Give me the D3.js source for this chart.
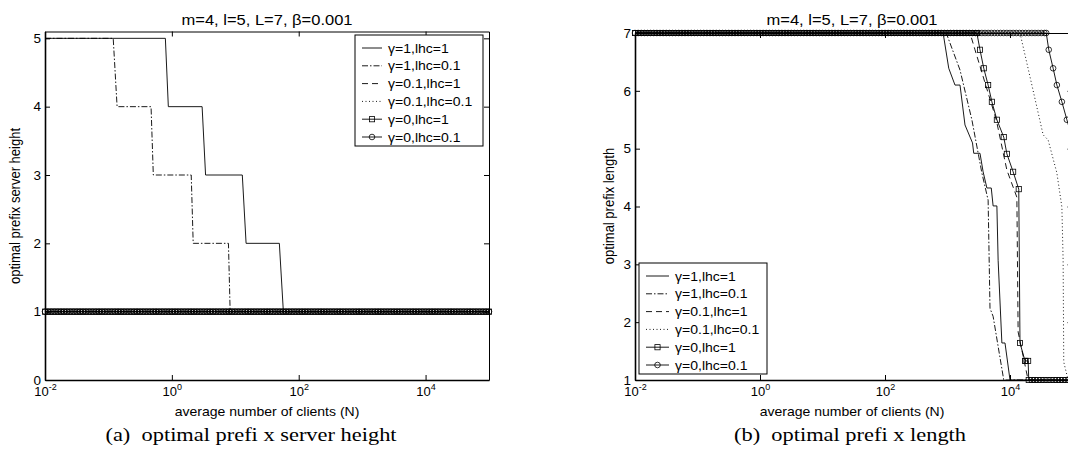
<!DOCTYPE html>
<html>
<head>
<meta charset="utf-8">
<script src="https://cdn.jsdelivr.net/npm/d3@7"></script>
<style>
body { margin: 0; background: #fff; }
text { font-family: "Liberation Sans", Arial, sans-serif; fill: #000; }
</style>
</head>
<body>
<div id="fig"></div>
<script>
// tick values / labels
var xTicks = [1e-2, 1e0, 1e2, 1e4];
var xTickExp = ["-2", "0", "2", "4"];
var heightTicks = [0, 1, 2, 3, 4, 5];
var lengthTicks = [1, 2, 3, 4, 5, 6, 7];
var seriesNames = ["γ=1,lhc=1", "γ=1,lhc=0.1", "γ=0.1,lhc=1", "γ=0.1,lhc=0.1", "γ=0,lhc=1", "γ=0,lhc=0.1"];

// (a) optimal prefix server height, points are [N, height]
var heightG1L1 = [[0.01, 5], [0.79, 5], [0.88, 4], [3.0, 4], [3.4, 3], [12.9, 3], [14.8, 2], [49.5, 2], [57.3, 1], [1e5, 1]];
var heightG1L01 = [[0.01, 5], [0.119, 5], [0.137, 4], [0.47, 4], [0.51, 3], [2.02, 3], [2.17, 2], [7.8, 2], [8.3, 1], [1e5, 1]];
var heightG01L1 = [[0.01, 1], [1e5, 1]];
var heightG01L01 = [[0.01, 1], [1e5, 1]];
var heightG0L1 = [[0.01, 1], [1e5, 1]];
var heightG0L01 = [[0.01, 1], [1e5, 1]];

// (b) optimal prefix length, points are [N, length]
var lengthG1L1 = [[0.01, 7], [851, 7], [1047, 6.39], [1318, 6.1], [1585, 6.1], [1905, 5.41], [2512, 5.1], [2630, 4.92], [3311, 4.92],
    [3715, 4.6], [4266, 4.32], [5012, 4.32], [5370, 4.01], [6166, 4.01], [6457, 3.07], [7413, 1.64], [8318, 1.64], [10000, 1], [1e5, 1]];
var lengthG1L01 = [[0.01, 7], [955, 7], [1585, 6.36], [2455, 5.5], [3548, 4.58], [4467, 4.11], [4786, 2.24], [5370, 2.1], [7943, 1], [1e5, 1]];
var lengthG01L1 = [[0.01, 7], [2291, 7], [2754, 6.71], [6026, 5.5], [8913, 4.63], [12882, 4.16], [13490, 1.83], [19498, 1], [1e5, 1]];
var lengthG01L01 = [[0.01, 7], [14454, 7], [22387, 6.1], [33884, 5.24], [40738, 5.15], [56234, 4.58], [67608, 3.99], [70795, 3.07],
    [72444, 1.31], [85114, 1], [1e5, 1]];
var lengthG0L1 = [[0.01, 7], [2951, 7], [3311, 6.71], [3802, 6.39], [4467, 6.1], [5129, 5.81], [6166, 5.5], [7943, 5.2], [8913, 4.91],
    [11220, 4.6], [13804, 4.3], [14454, 1.64], [17378, 1.33], [19498, 1.33], [19953, 1], [1e5, 1]];
var lengthG0L01 = [[0.01, 7], [38019, 7], [41687, 6.71], [48978, 6.39], [56234, 6.1], [67608, 5.81], [81283, 5.5], [97724, 5.2], [1e5, 5.15]];

// line styles per series
var dashes = [null, "6,2,1.5,2", "6,4", "1,2.5", null, null];
var markers = [null, null, null, null, "square", "circle"];

var svg = d3.select("#fig").append("svg").attr("width", 1068).attr("height", 462);

// markers on every sample: vertices plus the sample grid on flat runs
function markerPoints(s) {
    var pts = [];
    for (var i = 0; i < s.length; i++) {
        pts.push(s[i]);
        if (i < s.length - 1 && s[i][1] === s[i + 1][1]) {
            var a = Math.log10(s[i][0]), b = Math.log10(s[i + 1][0]);
            for (var t = Math.ceil(a * 20 + 0.01) / 20; t < b - 0.01; t += 0.05) pts.push([Math.pow(10, t), s[i][1]]);
        }
    }
    return pts;
}

function drawMarker(g, type, cx, cy) {
    if (type === "square") {
        g.append("rect").attr("x", cx - 2.6).attr("y", cy - 2.6).attr("width", 5.2).attr("height", 5.2)
            .attr("fill", "none").attr("stroke", "#000").attr("stroke-width", 0.8);
    } else if (type === "circle") {
        g.append("circle").attr("cx", cx).attr("cy", cy).attr("r", 2.8)
            .attr("fill", "none").attr("stroke", "#000").attr("stroke-width", 0.8);
    }
}

function drawPanel(p) {
    var x = d3.scaleLog().domain([1e-2, 1e5]).range([p.left, p.right]);
    var y = d3.scaleLinear().domain(p.yDomain).range([380, p.top]);
    var g = svg.append("g");

    // axes (box with inward ticks)
    var bottom = g.append("g").attr("transform", "translate(0,380)")
        .call(d3.axisBottom(x).tickValues(xTicks).tickSize(-5).tickSizeOuter(0).tickPadding(6));
    bottom.selectAll("text").each(function (d, i) {
        var t = d3.select(this).text("10").attr("y", 7).attr("font-size", 13).attr("font-family", null);
        t.append("tspan").attr("dy", -6).attr("font-size", 9).text(xTickExp[i]);
    });
    g.append("g").attr("transform", "translate(0," + p.top + ")")
        .call(d3.axisTop(x).tickValues(xTicks).tickSize(-5).tickSizeOuter(0).tickFormat(""));
    var left = g.append("g").attr("transform", "translate(" + p.left + ",0)")
        .call(d3.axisLeft(y).tickValues(p.yTicks).tickSize(-5).tickSizeOuter(0).tickPadding(4).tickFormat(d3.format("d")));
    left.selectAll("text").attr("font-size", 13.5).attr("font-family", null);
    g.append("g").attr("transform", "translate(" + p.right + ",0)")
        .call(d3.axisRight(y).tickValues(p.yTicks).tickSize(-5).tickSizeOuter(0).tickFormat(""));
    g.selectAll(".domain").attr("stroke-width", 1);
    bottom.select(".domain").attr("stroke-width", 1.6);
    left.select(".domain").attr("stroke-width", 1.6);

    // series
    var line = d3.line().x(function (d) { return x(d[0]); }).y(function (d) { return y(d[1]); });
    p.series.forEach(function (s, i) {
        g.append("path").attr("d", line(s)).attr("fill", "none").attr("stroke", "#000")
            .attr("stroke-width", 0.9).attr("stroke-dasharray", dashes[i]);
        if (markers[i]) {
            markerPoints(s).forEach(function (d) { drawMarker(g, markers[i], x(d[0]), y(d[1])); });
        }
    });

    // texts
    g.append("text").attr("transform", "translate(" + p.titleX + ",25) scale(1.18,1)")
        .attr("text-anchor", "middle").attr("font-size", 14).text("m=4, l=5, L=7, β=0.001");
    g.append("text").attr("transform", "translate(" + p.titleX + ",416) scale(1.08,1)")
        .attr("text-anchor", "middle").attr("font-size", 13).text("average number of clients (N)");
    g.append("text").attr("transform", "translate(" + p.ylabelX + ",206) scale(1.1,1) rotate(-90)")
        .attr("text-anchor", "middle").attr("font-size", 13).text(p.ylabel);
    g.append("text").attr("transform", "translate(" + p.captionX + ",441) scale(1.18,1)")
        .attr("text-anchor", "middle").attr("font-size", 19).style("font-family", "'Liberation Serif', 'Times New Roman', serif")
        .style("white-space", "pre").text(p.caption);

    // legend
    var lg = g.append("g");
    lg.append("rect").attr("x", p.legX).attr("y", p.legY).attr("width", 128).attr("height", 111)
        .attr("fill", "#fff").attr("stroke", "#000").attr("stroke-width", 1);
    seriesNames.forEach(function (name, i) {
        var ry = p.legY + 13 + i * 17.8;
        var x0 = p.legX + 7, x1 = p.legX + 7 + p.legLine;
        lg.append("line").attr("x1", x0).attr("x2", x1).attr("y1", ry).attr("y2", ry)
            .attr("stroke", "#000").attr("stroke-width", 0.9).attr("stroke-dasharray", dashes[i]);
        if (markers[i]) drawMarker(lg, markers[i], (x0 + x1) / 2, ry);
        lg.append("text").attr("transform", "translate(" + (x1 + 6) + "," + ry + ") scale(1.08,1)")
            .attr("dy", "0.36em").attr("font-size", 13).text(name);
    });
}

drawPanel({
    left: 45, right: 489, top: 31.5, yDomain: [0, 5.1], yTicks: heightTicks,
    series: [heightG1L1, heightG1L01, heightG01L1, heightG01L01, heightG0L1, heightG0L01],
    titleX: 267, ylabelX: 20, ylabel: "optimal prefix server height",
    captionX: 251, caption: "(a)  optimal prefi x server height",
    legX: 355, legY: 35, legLine: 20
});

drawPanel({
    left: 635, right: 1072.5, top: 33, yDomain: [1, 7], yTicks: lengthTicks,
    series: [lengthG1L1, lengthG1L01, lengthG01L1, lengthG01L01, lengthG0L1, lengthG0L01],
    titleX: 852, ylabelX: 614, ylabel: "optimal prefix length",
    captionX: 850, caption: "(b)  optimal prefi x length",
    legX: 639, legY: 263, legLine: 23
});
</script>
</body>
</html>
